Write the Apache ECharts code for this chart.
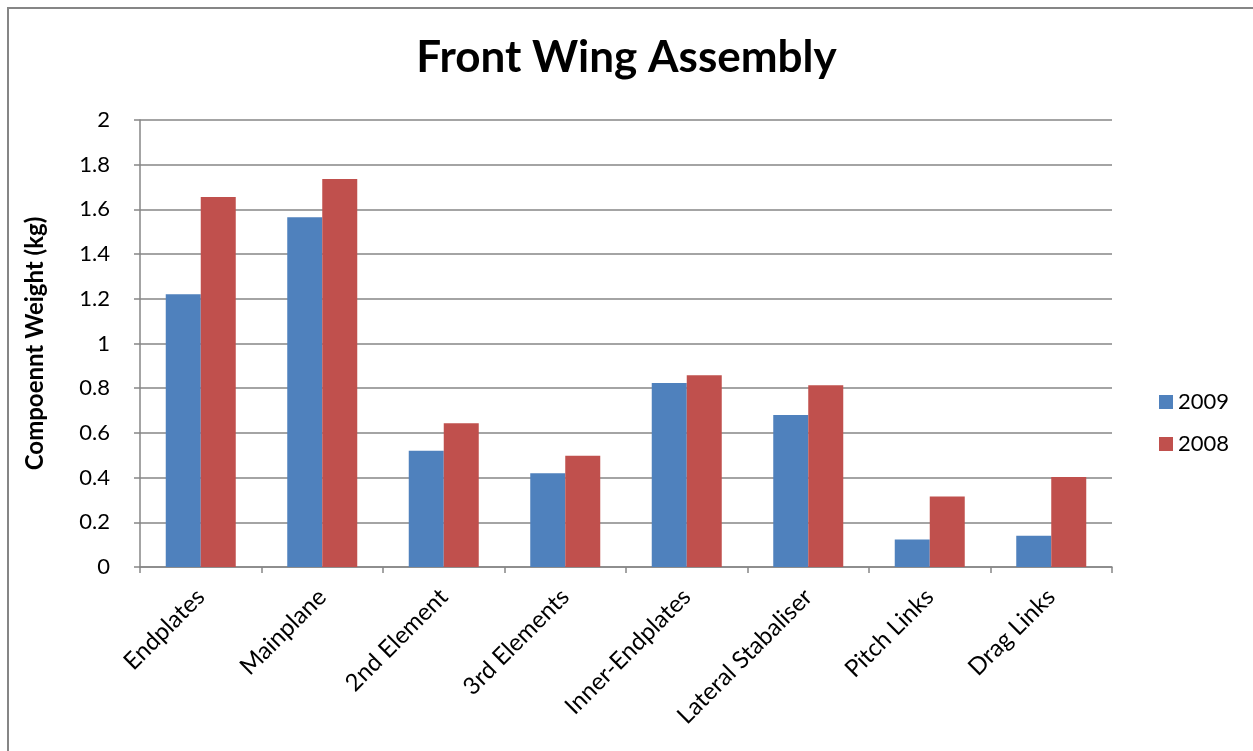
<!DOCTYPE html>
<html>
<head>
<meta charset="utf-8">
<script src="https://cdn.jsdelivr.net/npm/echarts@6/dist/echarts.min.js"></script>
<style>
  html, body { margin: 0; padding: 0; background: #fff; }
  #chart { width: 1253px; height: 751px; }
</style>
</head>
<body>
<div id="chart"></div>
<script>
// Datos del grafico
const categories = ['Endplates', 'Mainplane', '2nd Element', '3rd Elements', 'Inner-Endplates', 'Lateral Stabaliser', 'Pitch Links', 'Drag Links'];
const weights2009 = [1.22, 1.565, 0.52, 0.42, 0.823, 0.68, 0.123, 0.14];
const weights2008 = [1.655, 1.736, 0.643, 0.498, 0.858, 0.813, 0.315, 0.403];
const seriesNames = ['2009', '2008'];

const myChart = echarts.init(document.getElementById('chart'));
const fontFam = 'Lato, "Open Sans", sans-serif';

let option = {
    color: ['#4F81BD', '#C0504D'],
    textStyle: {fontFamily: fontFam},
    title: {
        text: 'Front Wing Assembly',
        left: 'center',
        top: 31,
        textStyle: {fontSize: 44, fontWeight: 'bold', color: '#000', fontFamily: fontFam}
    },
    // borde exterior del grafico
    graphic: [{
        type: 'rect',
        shape: {x: 8, y: 8, width: 1300, height: 800},
        style: {fill: 'none', stroke: '#868686', lineWidth: 2},
        silent: true
    }],
    legend: {
        orient: 'vertical',
        left: 1154,
        top: 386,
        itemWidth: 14,
        itemHeight: 14,
        itemGap: 20,
        icon: 'rect',
        data: seriesNames,
        textStyle: {fontSize: 22, color: '#000', fontFamily: fontFam}
    },
    grid: {
        left: 140,
        right: 141,
        top: 120,
        bottom: 184
    },
    xAxis: {
        type: 'category',
        data: categories,
        axisLine: {lineStyle: {color: '#868686', width: 1.5}},
        axisTick: {show: true, length: 6, lineStyle: {color: '#868686', width: 1.5}},
        axisLabel: {
            rotate: 45,
            fontSize: 24,
            color: '#000',
            margin: 26,
            interval: 0,
            fontFamily: fontFam
        }
    },
    yAxis: {
        type: 'value',
        min: 0,
        max: 2,
        interval: 0.2,
        name: 'Compoennt Weight (kg)',
        nameLocation: 'middle',
        nameGap: 93,
        nameTextStyle: {fontSize: 24, fontWeight: 'bold', color: '#000', fontFamily: fontFam},
        axisLine: {show: true, lineStyle: {color: '#868686', width: 1.5}},
        axisTick: {show: true, length: 6, lineStyle: {color: '#868686', width: 1.5}},
        axisLabel: {
            fontSize: 22,
            color: '#000',
            margin: 30,
            fontFamily: fontFam,
            formatter: v => String(Math.round(v * 10) / 10)
        },
        splitLine: {lineStyle: {color: '#868686', width: 1.5}}
    },
    series: [
        {
            name: seriesNames[0],
            type: 'bar',
            data: weights2009,
            barWidth: 35,
            barGap: '0%'
        },
        {
            name: seriesNames[1],
            type: 'bar',
            data: weights2008,
            barWidth: 35,
            barGap: '0%'
        }
    ]
};

myChart.setOption(option);
</script>
</body>
</html>
